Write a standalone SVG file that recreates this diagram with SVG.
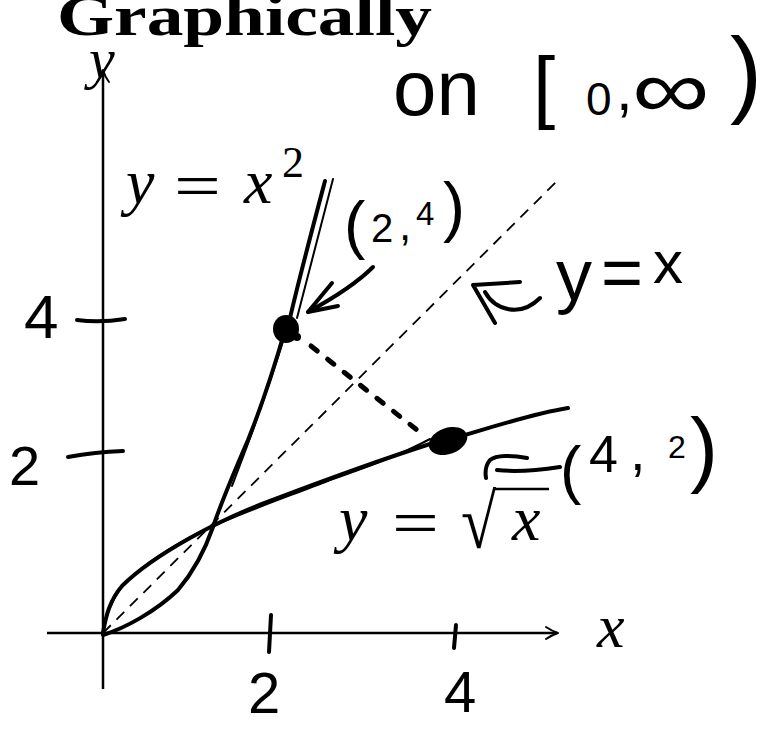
<svg xmlns="http://www.w3.org/2000/svg" width="771" height="729" viewBox="0 0 771 729">
<style>
.hand{fill:none;stroke:#000;stroke-width:4;stroke-linecap:round;stroke-linejoin:round}
.thin{fill:none;stroke:#000;stroke-width:2;stroke-linecap:round;stroke-linejoin:round}
.axis{fill:none;stroke:#000;stroke-width:2.5}
.math{font-family:"Liberation Serif",serif;font-style:italic;fill:#000}
.mrm{font-family:"Liberation Serif",serif;fill:#000}
.hw{font-family:"Liberation Sans",sans-serif;fill:#000}
</style>
<rect width="771" height="729" fill="#fff"/>
<g id="title">
<text x="57" y="35" font-family="Liberation Serif,serif" font-weight="bold" font-size="56" textLength="375" lengthAdjust="spacingAndGlyphs">Graphically</text>
</g>
<g id="axes">
<line class="axis" x1="103" y1="70" x2="103" y2="689"/>
<path class="thin" d="M97,82 Q101,77 103,70 Q105,77 109,82"/>
<line class="axis" x1="47" y1="633" x2="557" y2="633"/>
<path class="thin" d="M546,627 Q552,631 558,633 Q552,635 546,639"/>
<text class="math" x="89" y="78" font-size="58">y</text>
<text class="math" x="597" y="647" font-size="62">x</text>
</g>
<g id="ticks">
<path class="hand" d="M77,320 Q100,323 125,319"/>
<path class="hand" d="M68,457 Q95,452 123,451"/>
<path class="hand" d="M271,615 L269,652"/>
<path class="hand" d="M456,625 L454,648"/>
<text class="hw" x="24" y="338" font-size="62">4</text>
<text class="hw" x="9" y="485" font-size="56">2</text>
<text class="hw" x="248" y="713" font-size="58">2</text>
<text class="hw" x="444" y="712" font-size="58">4</text>
</g>
<g id="line-y-equals-x">
<line x1="103" y1="633" x2="558" y2="180" stroke="#000" stroke-width="1.8" stroke-dasharray="11 8"/>
</g>
<g id="curve-x-squared">
<path class="hand" d="M103,635 C125,628 155,612 178,590 C195,570 205,550 213,527 C222,500 235,470 248,440 C262,405 275,365 285,330 L290,318 C300,275 312,230 325,181"/>
<path class="thin" d="M232,486 C245,452 266,398 289,322"/>
<path class="thin" d="M297,318 C309,272 321,226 333,179"/>
</g>
<g id="curve-sqrt">
<path class="hand" d="M103,633 C106,615 110,600 122,586 C140,568 165,552 190,538 C215,524 240,512 270,501 C320,482 380,460 430,444"/>
<path class="thin" d="M105,622 C110,604 116,592 127,581 C148,561 173,546 200,532 C240,513 290,496 330,480 C370,466 400,455 430,439"/>
<path class="hand" d="M448,440 C490,428 530,414 568,408" stroke-width="5"/>
</g>
<g id="points">
<ellipse cx="286" cy="329" rx="13" ry="14"/>
<circle cx="297" cy="337" r="4"/>
<ellipse cx="448" cy="441" rx="20" ry="13" transform="rotate(-20 448 441)"/>
<path d="M311,346 Q370,393 426,437" fill="none" stroke="#000" stroke-width="5" stroke-linecap="round" stroke-dasharray="8 13"/>
</g>
<g id="label-x-squared">
<text class="math" x="126" y="203" font-size="64">y</text>
<text class="mrm" x="0" y="0" font-size="64" transform="translate(174,207) scale(1.3,1)">=</text>
<text class="math" x="244" y="203" font-size="64">x</text>
<text class="mrm" x="282" y="177" font-size="44">2</text>
</g>
<g id="label-sqrt">
<text class="math" x="339" y="540" font-size="64">y</text>
<text class="mrm" x="0" y="0" font-size="64" transform="translate(392,544) scale(1.3,1)">=</text>
<text class="mrm" x="0" y="0" font-size="64" transform="translate(461,548) scale(1,1.2)">√</text>
<line x1="493" y1="489" x2="549" y2="489" stroke="#000" stroke-width="2.5"/>
<text class="math" x="512" y="540" font-size="64">x</text>
</g>
<g id="note-domain">
<text class="hw" x="393" y="115" font-size="78">on</text>
<text class="hw" x="533" y="113" font-size="80">[</text>
<text class="hw" x="586" y="115" font-size="46">0</text>
<text class="hw" x="616" y="110" font-size="60">,</text>
<text class="hw" x="0" y="0" font-size="84" transform="translate(632,118) scale(1.3,1)">∞</text>
<text class="hw" x="730" y="105" font-size="96">)</text>
</g>
<g id="note-2-4">
<text class="hw" x="344" y="247" font-size="64">(</text>
<text class="hw" x="371" y="242" font-size="40">2</text>
<text class="hw" x="399" y="240" font-size="44">,</text>
<text class="hw" x="416" y="225" font-size="33">4</text>
<text class="hw" x="443" y="229" font-size="66">)</text>
<path class="hand" d="M373,267 C355,285 330,300 308,312"/>
<path class="hand" d="M332,283 L308,312 L338,306"/>
</g>
<g id="note-y-equals-x">
<path class="hand" d="M520,282 L473,285 L495,323"/>
<path class="hand" d="M485,292 C495,310 520,318 540,298"/>
<text class="hw" x="556" y="300" font-size="72">y</text>
<text class="hw" x="601" y="297" font-size="72">=</text>
<text class="hw" x="653" y="283" font-size="60">x</text>
</g>
<g id="note-4-2">
<path class="hand" d="M560,467 C540,470 515,472 497,470"/>
<path class="hand" d="M527,458 C512,455 496,455 490,460 C485,466 485,472 486,478"/>
<text class="hw" x="560" y="492" font-size="64">(</text>
<text class="hw" x="589" y="472" font-size="52">4</text>
<text class="hw" x="630" y="470" font-size="56">,</text>
<text class="hw" x="668" y="458" font-size="32">2</text>
<text class="hw" x="690" y="477" font-size="84">)</text>
</g>
</svg>
